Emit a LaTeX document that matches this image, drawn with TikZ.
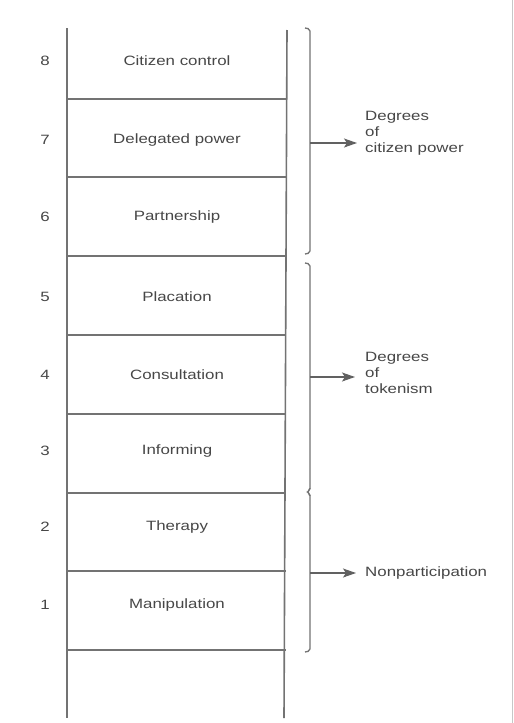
\documentclass[tikz,border=0pt]{standalone}
\usepackage{fontspec}
\setmainfont{Liberation Sans}[FakeStretch=1.25]
\usetikzlibrary{arrows.meta,positioning}

\tikzset{
    rail/.style={draw=black!55,line width=1.6pt},
    rung/.style={draw=black!55,line width=1.3pt},
    rungtext/.style={text=black!72,font=\fontsize{13.5}{16}\selectfont,inner sep=1pt},
    grouptext/.style={text=black!72,font=\fontsize{13.5}{16}\selectfont,align=left,anchor=west,inner sep=1pt},
    brace/.style={draw=black!55,line width=1.3pt,rounded corners=2pt},
    pointer/.style={draw=black!62,line width=1.1pt,-{Stealth[length=13pt,width=9pt,inset=3pt]}}
}

\begin{document}
\begin{tikzpicture}[x=1pt,y=-1pt]
    \useasboundingbox[fill=white] (0,0) rectangle (514,723);

    \coordinate (railLtop) at (67,28);
    \coordinate (railLbot) at (67,718);
    \coordinate (railRtop) at (287,30);
    \coordinate (railRbot) at (284,718);
    \draw[rail] (railLtop) -- (railLbot);
    \draw[rail] (railRtop) -- (railRbot);

    \foreach \i/\y in {7/99,6/177,5/256,4/335,3/414,2/493,1/571,0/650}
    {
        \coordinate (rungL\i) at (67,\y);
        \coordinate (rungR\i) at (286,\y);
        \draw[rung] (rungL\i) -- (rungR\i);
    }

    \foreach \i/\name/\y in {8/Citizen control/61,7/Delegated power/140,6/Partnership/217,
        5/Placation/297,4/Consultation/375,3/Informing/451,2/Therapy/527,1/Manipulation/605}
    {
        \node[rungtext] (step\i) at (177,\y) {\name};
        \node[rungtext] (num\i) at (45,\y) {\i};
    }

    \coordinate (powertop) at (305,28);
    \coordinate (powerbot) at (305,254);
    \coordinate (tokentop) at (305,263);
    \coordinate (tokenbot) at (307,492);
    \coordinate (nonbot) at (305,652);
    \draw[brace] (powertop) -- (310,29) -- (310,253) -- (powerbot);
    \draw[brace] (tokentop) -- (310,264) -- (310,490) -- (tokenbot) -- (310,494) -- (310,651) -- (nonbot);

    \coordinate (powermid) at (310,143);
    \coordinate (powertip) at (357,143);
    \coordinate (tokenmid) at (310,377);
    \coordinate (tokentip) at (355,377);
    \coordinate (nonmid) at (310,573);
    \coordinate (nontip) at (356,573);

    \node[grouptext] (power) at (364,133) {Degrees\\of\\citizen power};
    \node[grouptext] (token) at (364,373) {Degrees\\of\\tokenism};
    \node[grouptext] (nonpart) at (364,573) {Nonparticipation};

    \draw[pointer] (powermid) -- (powertip);
    \draw[pointer] (tokenmid) -- (tokentip);
    \draw[pointer] (nonmid) -- (nontip);

    \draw[black!22,line width=1pt] (512,0) -- (512,723);
\end{tikzpicture}
\end{document}
